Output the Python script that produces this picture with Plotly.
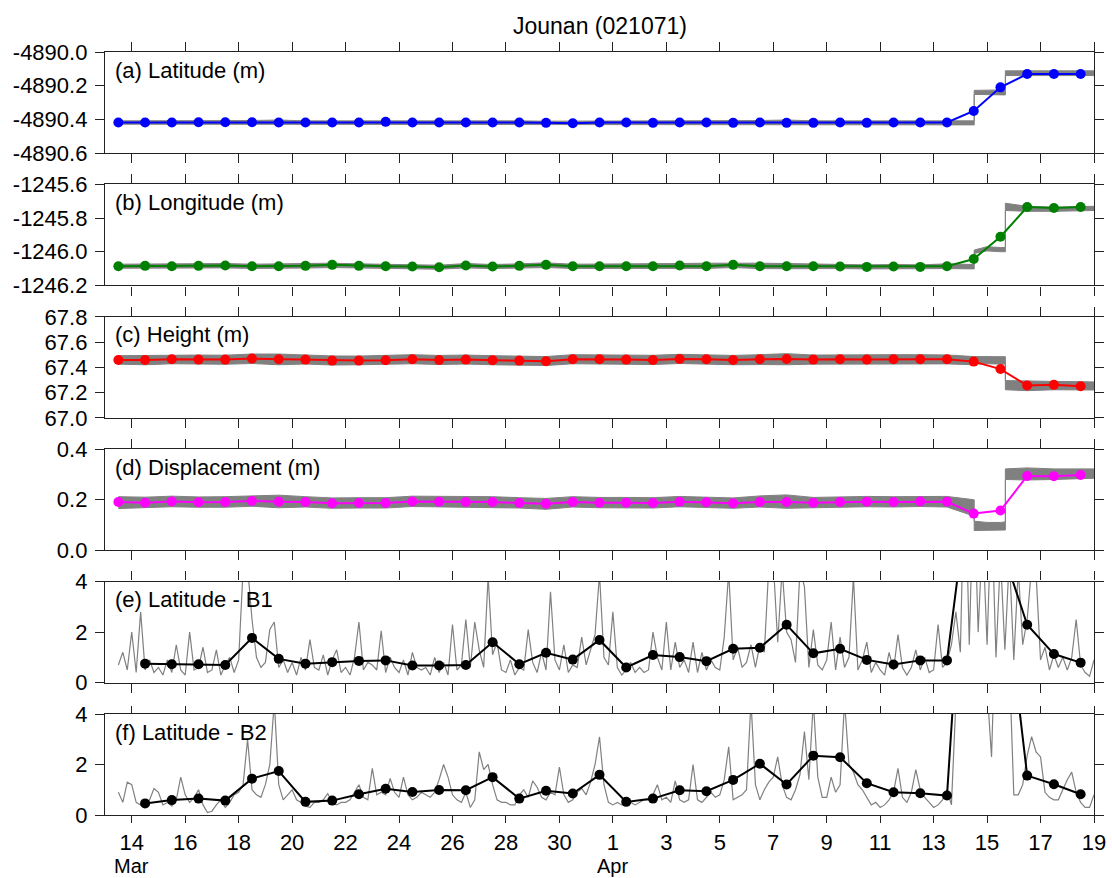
import pandas as pd
import plotly.graph_objects as go
from plotly.subplots import make_subplots

FONT = "Liberation Sans, Arial, sans-serif"

# ---- time axes ---------------------------------------------------------------
day_t = pd.date_range("2016-03-13 12:00", "2016-04-18 12:00", freq="D")   # daily means
res_t = day_t[1:]                                                          # residual daily means
hf_t = pd.date_range("2016-03-13 12:00", "2016-04-19 00:00", freq="4h")   # residual series

# envelope times of the 30 s coordinate series (steps at the two Kumamoto shocks)
band_t = [
    "2016-03-13 12:00", "2016-03-14 12:00", "2016-03-15 12:00", "2016-03-16 12:00",
    "2016-03-17 12:00", "2016-03-18 12:00", "2016-03-19 12:00", "2016-03-20 12:00",
    "2016-03-21 12:00", "2016-03-22 12:00", "2016-03-23 12:00", "2016-03-24 12:00",
    "2016-03-25 12:00", "2016-03-26 12:00", "2016-03-27 12:00", "2016-03-28 12:00",
    "2016-03-29 12:00", "2016-03-30 12:00", "2016-03-31 12:00", "2016-04-01 12:00",
    "2016-04-02 12:00", "2016-04-03 12:00", "2016-04-04 12:00", "2016-04-05 12:00",
    "2016-04-06 12:00", "2016-04-07 12:00", "2016-04-08 12:00", "2016-04-09 12:00",
    "2016-04-10 12:00", "2016-04-11 12:00", "2016-04-12 12:00", "2016-04-13 12:00",
    "2016-04-14 12:00", "2016-04-14 12:26", "2016-04-14 12:26", "2016-04-15 00:00",
    "2016-04-15 12:00", "2016-04-15 16:25", "2016-04-15 16:25", "2016-04-16 12:00",
    "2016-04-17 12:00", "2016-04-18 12:00", "2016-04-19 00:00",
]

# ---- daily means -------------------------------------------------------------
lat_mean = [-4890.419, -4890.419, -4890.419, -4890.417, -4890.417, -4890.417, -4890.419,
            -4890.419, -4890.419, -4890.419, -4890.415, -4890.419, -4890.419, -4890.419,
            -4890.419, -4890.419, -4890.421, -4890.423, -4890.419, -4890.419, -4890.421,
            -4890.419, -4890.419, -4890.421, -4890.419, -4890.421, -4890.421, -4890.419,
            -4890.421, -4890.419, -4890.419, -4890.419, -4890.350, -4890.210, -4890.131,
            -4890.131, -4890.131]
lon_mean = [-1246.086, -1246.084, -1246.086, -1246.084, -1246.082, -1246.086, -1246.086,
            -1246.084, -1246.078, -1246.084, -1246.086, -1246.088, -1246.092, -1246.082,
            -1246.088, -1246.084, -1246.078, -1246.086, -1246.086, -1246.086, -1246.086,
            -1246.082, -1246.086, -1246.078, -1246.086, -1246.086, -1246.086, -1246.088,
            -1246.090, -1246.088, -1246.090, -1246.086, -1246.043, -1245.911, -1245.734,
            -1245.740, -1245.734]
hgt_mean = [67.458, 67.458, 67.464, 67.461, 67.461, 67.469, 67.464, 67.461, 67.453, 67.453,
            67.456, 67.464, 67.458, 67.461, 67.456, 67.453, 67.448, 67.464, 67.464, 67.461,
            67.458, 67.466, 67.464, 67.458, 67.464, 67.466, 67.461, 67.464, 67.461, 67.464,
            67.464, 67.464, 67.445, 67.386, 67.256, 67.261, 67.250]
disp_mean = [0.191, 0.188, 0.193, 0.190, 0.191, 0.195, 0.192, 0.191, 0.186, 0.187, 0.187,
             0.193, 0.192, 0.191, 0.191, 0.187, 0.184, 0.191, 0.188, 0.188, 0.187, 0.192,
             0.190, 0.186, 0.191, 0.191, 0.188, 0.191, 0.192, 0.191, 0.193, 0.192, 0.145,
             0.157, 0.294, 0.293, 0.298]
b1_mean = [0.75, 0.73, 0.73, 0.70, 1.77, 0.94, 0.75, 0.81, 0.86, 0.88, 0.68, 0.68, 0.70,
           1.60, 0.73, 1.18, 0.91, 1.69, 0.60, 1.09, 1.01, 0.85, 1.34, 1.38, 2.29, 1.16,
           1.34, 0.90, 0.72, 0.88, 0.88, 9.2, 5.5, 2.29, 1.13, 0.79]
b2_mean = [0.46, 0.59, 0.65, 0.57, 1.44, 1.74, 0.52, 0.57, 0.82, 1.04, 0.91, 0.99, 0.98,
           1.50, 0.65, 0.96, 0.85, 1.59, 0.52, 0.65, 0.98, 0.94, 1.39, 2.03, 1.21, 2.35,
           2.29, 1.26, 0.90, 0.86, 0.77, 17.0, 10.6, 1.56, 1.22, 0.82]

# ---- envelopes (min / max) of the 30 s series --------------------------------
lat_lo = [-4890.429, -4890.429, -4890.431, -4890.429, -4890.429, -4890.429, -4890.432,
          -4890.429, -4890.429, -4890.429, -4890.429, -4890.429, -4890.429, -4890.429,
          -4890.429, -4890.429, -4890.431, -4890.431, -4890.429, -4890.429, -4890.431,
          -4890.429, -4890.429, -4890.431, -4890.432, -4890.433, -4890.431, -4890.429,
          -4890.431, -4890.429, -4890.429, -4890.431, -4890.433, -4890.433, -4890.252,
          -4890.252, -4890.255, -4890.255, -4890.140, -4890.140, -4890.140, -4890.140,
          -4890.140]
lat_hi = [-4890.409, -4890.409, -4890.409, -4890.407, -4890.407, -4890.407, -4890.404,
          -4890.409, -4890.409, -4890.409, -4890.405, -4890.409, -4890.409, -4890.409,
          -4890.409, -4890.409, -4890.411, -4890.411, -4890.409, -4890.409, -4890.411,
          -4890.409, -4890.409, -4890.409, -4890.407, -4890.404, -4890.409, -4890.409,
          -4890.411, -4890.409, -4890.409, -4890.409, -4890.409, -4890.409, -4890.228,
          -4890.228, -4890.225, -4890.225, -4890.112, -4890.112, -4890.115, -4890.112,
          -4890.112]
lon_lo = [-1246.098, -1246.097, -1246.099, -1246.097, -1246.096, -1246.099, -1246.099,
          -1246.097, -1246.094, -1246.097, -1246.099, -1246.100, -1246.104, -1246.096,
          -1246.100, -1246.097, -1246.094, -1246.099, -1246.099, -1246.099, -1246.099,
          -1246.096, -1246.099, -1246.094, -1246.100, -1246.101, -1246.099, -1246.100,
          -1246.102, -1246.100, -1246.102, -1246.100, -1246.102, -1246.102, -1246.010,
          -1245.995, -1246.000, -1246.000, -1245.755, -1245.760, -1245.760, -1245.755,
          -1245.755]
lon_hi = [-1246.074, -1246.072, -1246.074, -1246.072, -1246.070, -1246.074, -1246.072,
          -1246.072, -1246.068, -1246.072, -1246.074, -1246.076, -1246.080, -1246.070,
          -1246.076, -1246.072, -1246.066, -1246.074, -1246.074, -1246.074, -1246.074,
          -1246.070, -1246.068, -1246.066, -1246.068, -1246.070, -1246.074, -1246.076,
          -1246.078, -1246.076, -1246.078, -1246.072, -1246.076, -1246.076, -1245.990,
          -1245.970, -1245.975, -1245.975, -1245.712, -1245.730, -1245.735, -1245.730,
          -1245.730]
hgt_lo = [67.425, 67.420, 67.428, 67.425, 67.424, 67.430, 67.420, 67.426, 67.418, 67.420,
          67.423, 67.428, 67.422, 67.426, 67.420, 67.418, 67.414, 67.428, 67.426, 67.425,
          67.422, 67.430, 67.426, 67.420, 67.422, 67.420, 67.425, 67.426, 67.422, 67.428,
          67.426, 67.427, 67.420, 67.420, 67.425, 67.428, 67.425, 67.425, 67.222, 67.215,
          67.222, 67.218, 67.220]
hgt_hi = [67.492, 67.495, 67.500, 67.497, 67.496, 67.505, 67.505, 67.497, 67.490, 67.489,
          67.492, 67.500, 67.494, 67.497, 67.492, 67.489, 67.485, 67.500, 67.500, 67.497,
          67.495, 67.503, 67.500, 67.494, 67.500, 67.508, 67.497, 67.500, 67.497, 67.500,
          67.500, 67.498, 67.485, 67.485, 67.482, 67.485, 67.484, 67.484, 67.295, 67.290,
          67.288, 67.286, 67.284]
disp_lo = [0.165, 0.168, 0.172, 0.170, 0.170, 0.174, 0.168, 0.171, 0.166, 0.167, 0.167,
           0.173, 0.172, 0.171, 0.170, 0.167, 0.162, 0.171, 0.168, 0.168, 0.167, 0.172,
           0.170, 0.166, 0.171, 0.166, 0.168, 0.171, 0.172, 0.171, 0.173, 0.171, 0.135,
           0.135, 0.078, 0.080, 0.080, 0.080, 0.280, 0.278, 0.280, 0.284, 0.285]
disp_hi = [0.212, 0.210, 0.214, 0.211, 0.212, 0.216, 0.218, 0.212, 0.207, 0.208, 0.208,
           0.214, 0.213, 0.212, 0.212, 0.208, 0.205, 0.212, 0.209, 0.209, 0.208, 0.213,
           0.211, 0.207, 0.215, 0.219, 0.209, 0.212, 0.213, 0.212, 0.214, 0.213, 0.200,
           0.200, 0.115, 0.110, 0.110, 0.112, 0.322, 0.326, 0.322, 0.320, 0.322]

# ---- 4-hourly residuals (Latitude minus the two reference series) -------------
b1_raw = [
    0.7, 1.2, 0.5,
    2.0, 0.4, 2.8, 0.5, 0.9, 0.4,
    0.6, 0.3, 0.9, 0.4, 1.5, 0.5,
    0.3, 2.0, 0.5, 0.6, 1.4, 0.4,
    0.5, 1.3, 0.3, 0.7, 1.0, 0.4,
    0.9, 4.5, 4.6, 2.5, 1.0, 0.6,
    0.8, 2.1, 2.4, 0.6, 0.9, 0.4,
    0.8, 0.3, 1.0, 0.5, 1.7, 0.6,
    0.5, 1.1, 0.3, 0.9, 1.3, 0.4,
    0.6, 0.3, 1.0, 2.4, 0.5, 0.8,
    0.7, 0.5, 2.05, 0.4, 1.0, 0.6,
    0.4, 0.9, 0.3, 1.2, 0.6, 0.5,
    0.6, 0.3, 1.0, 0.4, 0.8, 0.3,
    2.3, 0.5, 0.7, 2.5, 0.6, 2.4,
    1.3, 0.6, 4.2, 1.1, 1.6, 0.5,
    0.4, 0.9, 0.3, 0.6, 0.5, 2.1,
    0.8, 0.4, 1.2, 0.5, 3.6, 0.9,
    0.5, 1.5, 0.4, 0.7, 0.6, 1.8,
    0.7, 1.3, 1.9, 4.3, 1.0, 0.7,
    2.8, 0.6, 0.3, 0.5, 0.8, 0.4,
    0.6, 0.4, 0.5, 2.0, 1.0, 0.5,
    2.4, 0.5, 1.6, 0.6, 0.9, 0.4,
    1.6, 0.4, 1.2, 0.5, 0.9, 0.6,
    0.5, 1.8, 4.4, 0.9, 1.4, 0.6,
    0.8, 1.5, 0.6, 1.5, 1.2, 4.6,
    4.8, 1.6, 4.5, 2.0, 1.7, 0.8,
    4.5, 3.8, 0.6, 2.1, 0.7, 0.5,
    0.9, 2.4, 0.5, 1.8, 0.6, 1.0,
    4.2, 0.5, 0.9, 1.6, 0.4, 0.8,
    0.5, 0.3, 1.2, 0.5, 1.9, 0.6,
    0.3, 0.6, 1.3, 0.5, 1.0, 0.4,
    0.5, 2.3, 0.6, 0.8, 1.5, 2.8,
    1.2, 9.0, 1.5, 8.0, 2.0, 6.0,
    1.5, 7.0, 1.0, 5.0, 1.3, 5.0,
    0.9, 4.5, 1.5, 2.5, 4.6, 4.3,
    0.9, 1.4, 0.5, 1.1, 0.6, 1.0,
    0.5, 1.0, 2.5, 0.7, 0.4, 0.25,
    0.9,
]
b2_raw = [
    0.9, 0.5, 1.3,
    1.2, 0.5, 0.4, 0.35, 0.6, 1.05,
    0.9, 0.4, 0.5, 0.35, 0.6, 1.5,
    0.8, 0.5, 0.7, 1.0, 0.4, 0.1,
    0.15, 0.4, 0.6, 0.3, 0.5, 0.8,
    0.9, 1.2, 3.0, 1.0, 0.8, 0.7,
    1.2, 2.0, 4.5, 1.2, 0.6, 0.8,
    1.0, 0.6, 0.5, 0.35, 0.3, 0.5,
    0.5, 0.6, 0.85, 0.5, 0.4, 0.5,
    0.5, 0.6, 0.9, 1.2, 0.7, 0.6,
    1.85, 0.8, 0.9, 0.8, 1.45, 0.9,
    0.7, 1.5, 0.8, 0.6, 0.7, 0.9,
    0.8, 0.7, 0.9, 1.4, 2.0, 1.5,
    0.8, 0.6, 0.5, 0.9, 0.3, 0.6,
    2.5, 1.8, 2.0, 1.2, 0.6, 0.5,
    0.5, 0.4, 0.4, 0.8, 1.0, 0.7,
    1.35, 1.1, 0.7, 0.6, 0.9, 0.8,
    1.9, 0.8, 0.5, 0.6, 0.9, 1.05,
    0.8, 1.3, 2.0, 3.1, 1.2, 0.5,
    0.4, 0.5, 0.4, 0.45, 0.5, 0.4,
    0.5, 0.6, 0.6, 0.8, 1.2, 0.6,
    0.7, 0.5, 1.35, 0.6, 0.5, 0.6,
    2.0, 0.6, 0.5, 0.7, 0.9, 0.7,
    0.8, 1.4, 2.7, 0.6, 0.7, 0.8,
    1.0, 4.5, 1.2, 0.6, 1.0, 1.3,
    1.5, 2.3, 1.2, 0.7, 0.6, 1.0,
    1.6, 3.3, 1.4, 4.5, 1.5, 0.7,
    0.7, 1.5, 0.9, 1.2, 4.5, 2.0,
    1.7, 1.2, 1.0, 0.7, 0.4, 0.5,
    0.3, 0.4, 0.6, 0.9, 1.85, 0.7,
    0.5, 0.9, 1.8, 1.0, 0.7, 0.5,
    0.3, 0.4, 0.6, 1.0, 0.4, 4.5,
    9.0, 20.0, 26.0, 18.0, 12.0, 8.0,
    5.0, 2.3, 8.0, 14.0, 10.0, 6.0,
    0.8, 0.8, 1.2, 2.35, 3.1, 2.5,
    2.3, 0.9, 0.7, 0.6, 0.6, 1.0,
    1.4, 1.7, 0.9, 0.5, 0.3, 0.3,
    0.8,
]

# ---- axis ticks -------------------------------------------------------------------
x_tickvals = ["2016-03-14", "2016-03-16", "2016-03-18", "2016-03-20", "2016-03-22",
              "2016-03-24", "2016-03-26", "2016-03-28", "2016-03-30", "2016-04-01",
              "2016-04-03", "2016-04-05", "2016-04-07", "2016-04-09", "2016-04-11",
              "2016-04-13", "2016-04-15", "2016-04-17", "2016-04-19"]
x_ticktext = ["14", "16", "18", "20", "22", "24", "26", "28", "30", "1",
              "3", "5", "7", "9", "11", "13", "15", "17", "19"]
month_pos = ["2016-03-14", "2016-04-01"]
month_text = ["Mar", "Apr"]

lat_ticks = [-4890.6, -4890.4, -4890.2, -4890.0]
lon_ticks = [-1246.2, -1246.0, -1245.8, -1245.6]
hgt_ticks = [67.0, 67.2, 67.4, 67.6, 67.8]
disp_ticks = [0.0, 0.2, 0.4]
res_ticks = [0, 2, 4]

panel_labels = ["(a) Latitude (m)", "(b) Longitude (m)", "(c) Height (m)",
                "(d) Displacement (m)", "(e) Latitude - B1", "(f) Latitude - B2"]
title_text = "Jounan (021071)"

GRAY = "#808080"
PLOT_H = 878 - 52 - 63

fig = make_subplots(rows=6, cols=1, shared_xaxes=True, vertical_spacing=31.4 / PLOT_H)

coord_panels = [
    (lat_lo, lat_hi, lat_mean, "#0000FF"),
    (lon_lo, lon_hi, lon_mean, "#008000"),
    (hgt_lo, hgt_hi, hgt_mean, "#FF0000"),
    (disp_lo, disp_hi, disp_mean, "#FF00FF"),
]
for i, (lo, hi, mean, col) in enumerate(coord_panels, start=1):
    fig.add_trace(go.Scatter(x=band_t, y=lo, mode="lines",
                             line=dict(color=GRAY, width=1), hoverinfo="skip"),
                  row=i, col=1)
    fig.add_trace(go.Scatter(x=band_t, y=hi, mode="lines", fill="tonexty",
                             fillcolor=GRAY, line=dict(color=GRAY, width=1),
                             hoverinfo="skip"),
                  row=i, col=1)
    fig.add_trace(go.Scatter(x=day_t, y=mean, mode="lines+markers",
                             line=dict(color=col, width=2),
                             marker=dict(color=col, size=10)),
                  row=i, col=1)

for i, (raw, mean) in enumerate([(b1_raw, b1_mean), (b2_raw, b2_mean)], start=5):
    fig.add_trace(go.Scatter(x=hf_t, y=raw, mode="lines",
                             line=dict(color=GRAY, width=1.2)),
                  row=i, col=1)
    fig.add_trace(go.Scatter(x=res_t, y=mean, mode="lines+markers",
                             line=dict(color="black", width=2),
                             marker=dict(color="black", size=10)),
                  row=i, col=1)

axis_common = dict(showline=True, linecolor="#222222", linewidth=1.3, mirror="ticks",
                   ticks="outside", tickwidth=1.3, tickcolor="#222222",
                   showgrid=False, zeroline=False, automargin=False,
                   tickfont=dict(family=FONT, size=22, color="black"))

fig.update_xaxes(range=["2016-03-13", "2016-04-19"], tickvals=x_tickvals,
                 ticktext=x_ticktext, ticklen=7, **axis_common)
for r in range(1, 6):
    fig.update_xaxes(showticklabels=False, ticklen=9, row=r, col=1)

y_specs = [
    ([-4890.6, -4890.0], lat_ticks, "{:.1f}"),
    ([-1246.2, -1245.6], lon_ticks, "{:.1f}"),
    ([67.0, 67.8], hgt_ticks, "{:.1f}"),
    ([0.0, 0.4], disp_ticks, "{:.1f}"),
    ([0, 4], res_ticks, "{:d}"),
    ([0, 4], res_ticks, "{:d}"),
]
for r, (rng, tv, fmt) in enumerate(y_specs, start=1):
    fig.update_yaxes(range=rng, tickvals=tv, ticktext=[fmt.format(v) for v in tv],
                     ticklen=9, ticklabelstandoff=3, row=r, col=1, **axis_common)

annotations = []
for r, label in enumerate(panel_labels, start=1):
    sfx = "" if r == 1 else str(r)
    annotations.append(dict(text=label, xref=f"x{sfx} domain", yref=f"y{sfx} domain",
                            x=0.008, y=1 - 18 / 101, xanchor="left", yanchor="middle",
                            showarrow=False, font=dict(family=FONT, size=22, color="black")))
for pos, txt in zip(month_pos, month_text):
    annotations.append(dict(text=txt, xref="x6", yref="paper", x=pos,
                            y=-(866.5 - 815) / PLOT_H, xanchor="center", yanchor="middle",
                            borderpad=0, showarrow=False,
                            font=dict(family=FONT, size=20, color="black")))
annotations.append(dict(text=title_text, xref="paper", yref="paper", x=0.5,
                        y=1 + 26 / PLOT_H, xanchor="center", yanchor="middle",
                        showarrow=False, font=dict(family=FONT, size=23, color="black")))

fig.update_layout(width=1112, height=878, showlegend=False,
                  margin=dict(l=105, r=18, t=52, b=63),
                  paper_bgcolor="white", plot_bgcolor="white",
                  annotations=annotations, font=dict(family=FONT, color="black"))

fig.write_html("out.html")
